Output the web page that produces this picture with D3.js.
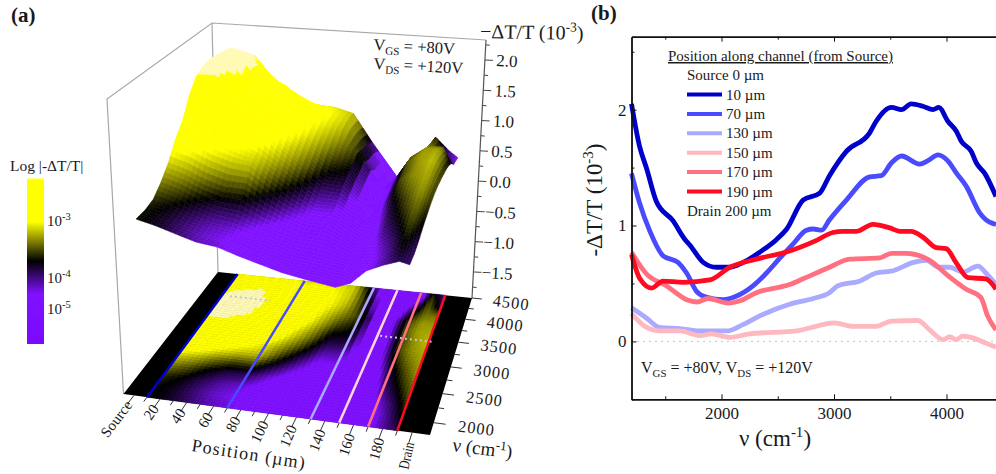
<!DOCTYPE html>
<html>
<head>
<meta charset="utf-8">
<script src="https://cdn.jsdelivr.net/npm/d3@7"></script>
<style>
  html, body { margin: 0; background: #fff; }
  svg { display: block; }
  text { font-family: "Liberation Serif", serif; fill: #1a1a1a; }
</style>
</head>
<body>
<div id="container"></div>
<script>
// panel (b) spectra, [wavenumber, -dT/T]
const spectrum10 = [[1200,2.05],[1270,1.69],[1335,1.49],[1420,1.21],[1570,1.04],[1675,.88],[1720,.83],[1840,.68],[1953,.64],[2074,.64],[2190,.68],[2340,.77],[2490,.88],[2580,.97],[2725,1.22],[2873,1.28],[2960,1.43],[3110,1.64],[3317,1.8],[3375,1.9],[3510,2.02],[3600,2.0],[3686,2.05],[3790,2.03],[3880,2.0],[3932,2.02],[4012,1.9],[4090,1.81],[4130,1.73],[4220,1.64],[4265,1.54],[4340,1.45],[4440,1.25]];
const spectrum70 = [[1200,1.45],[1270,1.2],[1364,.95],[1480,.74],[1615,.68],[1690,.59],[1780,.43],[1870,.38],[2015,.36],[2130,.39],[2280,.48],[2400,.59],[2520,.72],[2635,.84],[2755,.96],[2815,.97],[2890,.96],[2960,1.05],[3110,1.22],[3317,1.42],[3420,1.43],[3510,1.54],[3600,1.6],[3760,1.53],[3835,1.56],[3925,1.61],[4010,1.56],[4090,1.45],[4175,1.34],[4295,1.11],[4350,1.05],[4440,1.01]];
const spectrum130 = [[1200,.29],[1335,.2],[1450,.12],[1630,.11],[1808,.09],[2045,.09],[2190,.145],[2340,.22],[2605,.32],[2815,.37],[2960,.42],[3035,.48],[3225,.52],[3375,.59],[3525,.61],[3700,.68],[3820,.7],[3935,.64],[4030,.64],[4145,.6],[4280,.65],[4350,.59],[4440,.49]];
const spectrum150 = [[1200,.24],[1335,.12],[1450,.09],[1630,.09],[1808,.05],[1910,.065],[2074,.035],[2250,.065],[2665,.09],[2840,.13],[3000,.16],[3170,.13],[3375,.13],[3510,.175],[3745,.18],[3850,.1],[3970,.015],[4030,.04],[4085,.015],[4145,.045],[4235,.03],[4350,-.015],[4440,-.05]];
const spectrum170 = [[1200,.77],[1335,.58],[1510,.48],[1690,.36],[1780,.34],[1880,.37],[2060,.33],[2165,.35],[2310,.42],[2605,.49],[2725,.54],[2960,.64],[3140,.71],[3405,.72],[3510,.76],[3640,.76],[3850,.7],[4010,.57],[4175,.45],[4305,.38],[4365,.22],[4440,.1]];
const spectrum190 = [[1200,.75],[1275,.54],[1380,.46],[1480,.52],[1660,.51],[1896,.53],[2074,.64],[2310,.71],[2605,.78],[2840,.87],[2990,.94],[3080,.95],[3200,.95],[3345,1.01],[3495,.98],[3585,.95],[3686,.95],[3790,.9],[3908,.81],[3997,.8],[4085,.68],[4190,.55],[4350,.54],[4440,.45]];

const legendLabels = ["10 µm", "70 µm", "130 µm", "150 µm", "170 µm", "190 µm"];
const linePositions = [10, 70, 130, 150, 170, 190];
const lineColors = ["#0000cc", "#4a4aff", "#aaaaff", "#ffb8c0", "#ff7080", "#ff0a20"];
const spectra = [spectrum10, spectrum70, spectrum130, spectrum150, spectrum170, spectrum190];

// panel (a) surface, one row per position, one column per wavenumber
const gridNu = [1800, 2000, 2200, 2400, 2600, 2800, 3000, 3200, 3400, 3600, 3800, 4000, 4200, 4400, 4500];
const gridPos = [10, 25, 40, 55, 70, 85, 100, 115, 130, 150, 160, 170, 180, 190, 196];
const gridZ = [
  [.64,.64,.68,.82,1.00,1.25,1.43,1.72,1.92,2.00,2.03,1.92,1.66,1.32,1.15],
  [.58,.58,.62,.74,.92,1.18,1.40,1.65,1.90,2.10,2.20,2.15,1.85,1.55,1.40],
  [.50,.48,.52,.62,.80,1.06,1.30,1.52,1.76,1.98,2.12,2.08,1.95,1.65,1.50],
  [.42,.40,.44,.54,.72,.98,1.18,1.35,1.50,1.66,1.76,1.72,1.60,1.45,1.35],
  [.39,.36,.40,.52,.72,.95,1.05,1.28,1.43,1.58,1.55,1.60,1.42,1.08,1.00],
  [.30,.28,.32,.40,.55,.72,.86,1.00,1.12,1.25,1.34,1.33,1.26,1.12,1.05],
  [.22,.20,.24,.30,.40,.52,.66,.78,.88,.98,1.05,1.12,1.12,1.08,1.04],
  [.14,.13,.16,.22,.30,.36,.45,.55,.64,.75,.85,.94,.98,.98,.96],
  [.09,.09,.13,.22,.30,.37,.43,.53,.60,.64,.70,.65,.62,.55,.50],
  [.03,.03,.06,.07,.09,.12,.16,.13,.13,.17,.18,.03,.03,-.03,-.05],
  [.12,.12,.14,.18,.22,.28,.34,.36,.38,.40,.40,.26,.18,.08,.05],
  [.33,.33,.37,.44,.50,.56,.64,.71,.72,.76,.72,.60,.42,.12,.08],
  [.44,.45,.50,.58,.66,.72,.80,.86,.88,.90,.88,.80,.76,.72,.65],
  [.53,.62,.68,.75,.80,.87,.90,.92,.95,.92,.88,.80,.55,.48,.45],
  [.50,.50,.54,.60,.64,.68,.70,.70,.68,.66,.62,.55,.42,.38,.36]
];

const posTicks = [0, 20, 40, 60, 80, 100, 120, 140, 160, 180, 200];
const posTickLabels = ["Source", "20", "40", "60", "80", "100", "120", "140", "160", "180", "Drain"];
const nuTicks = [2000, 2500, 3000, 3500, 4000, 4500];
const zTicks = [2, 1.5, 1, .5, 0, -.5, -1, -1.5];

const svg = d3.select("#container").append("svg")
  .attr("width", 996)
  .attr("height", 474);

// ---------- panel (a) ----------

// square to quad mapping, corners in the order (0,0) (1,0) (1,1) (0,1)
function homography(q) {
  const [[x0, y0], [x1, y1], [x2, y2], [x3, y3]] = q;
  const dx1 = x1 - x2, dx2 = x3 - x2, sx = x0 - x1 + x2 - x3;
  const dy1 = y1 - y2, dy2 = y3 - y2, sy = y0 - y1 + y2 - y3;
  const den = dx1 * dy2 - dx2 * dy1;
  const g = (sx * dy2 - dx2 * sy) / den;
  const h = (dx1 * sy - sx * dy1) / den;
  const a = x1 - x0 + g * x1, b = x3 - x0 + h * x3;
  const d = y1 - y0 + g * y1, e = y3 - y0 + h * y3;
  return (u, v) => {
    const w = g * u + h * v + 1;
    return [(a * u + b * v + x0) / w, (d * u + e * v + y0) / w];
  };
}

const floorMap = homography([[123.5, 394], [430, 435], [472, 298], [218, 272]]);
const roofMap = homography([[107, 99], [443, 143], [486, 40], [212, 23]]);

const posScale = d3.scaleLinear().domain([-8, 212]).range([0, 1]);
const nuScale = d3.scaleLinear().domain([1800, 4500]).range([0, 1]);
const zScale = d3.scaleLinear().domain([-1.93, 2.33]).range([0, 1]);

function project(pos, nu, z) {
  const u = posScale(pos), v = nuScale(nu);
  const f = floorMap(u, v);
  if (z === undefined) return f;
  const r = roofMap(u, v);
  const t = zScale(z);
  return [f[0] + (r[0] - f[0]) * t, f[1] + (r[1] - f[1]) * t];
}

const logColor = d3.scaleLog()
  .domain([.36, .62, 1.1])
  .range(["#8012ff", "#000000", "#ffff00"])
  .clamp(true);

function zColor(z) {
  if (z >= 1.95) return "#fffab8";
  return logColor(Math.max(z, .01));
}

const poly = pts => "M" + pts.map(p => p.join(",")).join("L") + "Z";

// box edges
const box = svg.append("g").attr("fill", "none").attr("stroke", "#a8a8a8").attr("stroke-width", 1.2);
box.append("path").attr("d", "M" + [project(-8, 1800), project(-8, 1800, 2.33), project(-8, 4500, 2.33), project(212, 4500, 2.33)].map(p => p.join(",")).join("L"));
box.append("path").attr("d", "M" + [project(-8, 4500), project(-8, 4500, 2.33)].map(p => p.join(",")).join("L"));

// floor
svg.append("path")
  .attr("d", poly([project(-8, 1800), project(212, 1800), project(212, 4500), project(-8, 4500)]))
  .attr("fill", "#000");

// cells of the table, each shaded in a few steps
const steps = 4;
const cells = [];
for (let j = gridNu.length - 2; j >= 0; j--) {
  for (let sj = steps - 1; sj >= 0; sj--) {
    for (let i = 0; i < gridPos.length - 1; i++) {
      for (let si = 0; si < steps; si++) {
        cells.push({ i, j, si, sj });
      }
    }
  }
}

function cellPoint(i, j, a, b) {
  const pos = gridPos[i] + (gridPos[i + 1] - gridPos[i]) * a;
  const nu = gridNu[j] + (gridNu[j + 1] - gridNu[j]) * b;
  const z0 = gridZ[i][j] + (gridZ[i + 1][j] - gridZ[i][j]) * a;
  const z1 = gridZ[i][j + 1] + (gridZ[i + 1][j + 1] - gridZ[i][j + 1]) * a;
  return { pos, nu, z: z0 + (z1 - z0) * b };
}

function cellCorners(c) {
  const a0 = c.si / steps, a1 = (c.si + 1) / steps;
  const b0 = c.sj / steps, b1 = (c.sj + 1) / steps;
  return [[a0, b0], [a1, b0], [a1, b1], [a0, b1]].map(([a, b]) => cellPoint(c.i, c.j, a, b));
}

function cellColor(c) {
  return zColor(cellPoint(c.i, c.j, (c.si + .5) / steps, (c.sj + .5) / steps).z);
}

// the map on the floor stops at the last line
svg.append("g").selectAll("path")
  .data(cells.filter(c => gridPos[c.i] < 190))
  .join("path")
  .attr("d", c => poly(cellCorners(c).map(d => project(d.pos, d.nu))))
  .attr("fill", cellColor)
  .attr("stroke", cellColor)
  .attr("stroke-width", .6);

// position lines on the floor
svg.append("g").selectAll("line")
  .data(linePositions)
  .join("line")
  .attr("x1", d => project(d, 1800)[0])
  .attr("y1", d => project(d, 1800)[1])
  .attr("x2", d => project(d, 4500)[0])
  .attr("y2", d => project(d, 4500)[1])
  .attr("stroke", (d, i) => i === 3 ? "#ffd8dc" : lineColors[i])
  .attr("stroke-width", 2.5);

// dotted guides on the floor
const guides = [[[17, 3950], [52, 3950]], [[152, 3450], [192, 3450]]];
guides.forEach(g => {
  svg.append("line")
    .attr("x1", project(g[0][0], g[0][1])[0])
    .attr("y1", project(g[0][0], g[0][1])[1])
    .attr("x2", project(g[1][0], g[1][1])[0])
    .attr("y2", project(g[1][0], g[1][1])[1])
    .attr("stroke", "#c4c4dc")
    .attr("stroke-width", 2)
    .attr("stroke-dasharray", "2,3");
});

// surface, painted from the back to the front
svg.append("g").selectAll("path")
  .data(cells)
  .join("path")
  .attr("d", c => poly(cellCorners(c).map(d => project(d.pos, d.nu, d.z))))
  .attr("fill", cellColor)
  .attr("stroke", cellColor)
  .attr("stroke-width", .6);

// z axis
const zAxis = svg.append("g");
zAxis.append("line")
  .attr("x1", project(212, 4500)[0]).attr("y1", project(212, 4500)[1])
  .attr("x2", project(212, 4500, 2.33)[0]).attr("y2", project(212, 4500, 2.33)[1])
  .attr("stroke", "#555").attr("stroke-width", 1.2);
d3.range(-1.75, 2.3, .25).forEach(z => {
  const p = project(212, 4500, z);
  const major = Math.abs(z * 2 - Math.round(z * 2)) < .01;
  zAxis.append("line")
    .attr("x1", p[0]).attr("y1", p[1])
    .attr("x2", p[0] + (major ? 8 : 4)).attr("y2", p[1] + .4)
    .attr("stroke", "#444").attr("stroke-width", 1);
});
zTicks.forEach(z => {
  const p = project(212, 4500, z);
  zAxis.append("text")
    .attr("transform", `translate(${p[0] + (z < 0 ? 8 : 11)},${p[1] + 6}) rotate(3)`)
    .style("font-size", "17px")
    .text(d3.format(".1f")(z));
});

// position axis
const posAxis = svg.append("g");
d3.range(0, 201, 10).forEach(d => {
  const a = project(d, 1800);
  const b = project(d, d % 20 === 0 ? 1640 : 1720);
  posAxis.append("line")
    .attr("x1", a[0]).attr("y1", a[1]).attr("x2", b[0]).attr("y2", b[1])
    .attr("stroke", "#333").attr("stroke-width", 1);
});
posTicks.forEach((d, i) => {
  const a = project(d, 1800);
  const p = project(d, 1660);
  const angle = Math.atan2(p[1] - a[1], p[0] - a[0]) * 180 / Math.PI - 180 - (d / 200) * 6;
  const squeeze = posTickLabels[i] === "Drain" ? .8 : 1;
  posAxis.append("text")
    .attr("transform", `translate(${p[0] + 5},${p[1] + 2}) rotate(${angle}) scale(${squeeze},1)`)
    .attr("text-anchor", "end")
    .style("font-size", "15px")
    .text(posTickLabels[i]);
});
posAxis.append("text")
  .attr("transform", "translate(248,460) rotate(9)")
  .attr("text-anchor", "middle")
  .style("font-size", "18px")
  .style("letter-spacing", "1.2px")
  .text("Position (µm)");

// wavenumber axis
const nuAxis = svg.append("g");
d3.range(2000, 4501, 250).forEach(d => {
  const a = project(212, d);
  const major = d % 500 === 0;
  const b = project(major ? 220 : 216, d);
  nuAxis.append("line")
    .attr("x1", a[0]).attr("y1", a[1]).attr("x2", b[0]).attr("y2", b[1])
    .attr("stroke", "#333").attr("stroke-width", 1);
});
nuTicks.forEach(d => {
  const p = project(226, d);
  nuAxis.append("text")
    .attr("transform", `translate(${p[0] + 3},${p[1] + 6}) rotate(7)`)
    .style("font-size", "16.5px")
    .style("letter-spacing", "1px")
    .text(d);
});
const nuTitle = nuAxis.append("text")
  .attr("transform", "translate(452,451) rotate(7)")
  .style("font-size", "19px");
nuTitle.append("tspan").text("ν (cm");
nuTitle.append("tspan").attr("dy", -7).style("font-size", "13px").text("-1");
nuTitle.append("tspan").attr("dy", 7).text(")");

// z title and voltages
const zTitle = svg.append("text")
  .attr("transform", "translate(480,38) rotate(1)")
  .style("font-size", "20px");
zTitle.append("tspan").text("−ΔT/T (10");
zTitle.append("tspan").attr("dy", -8).style("font-size", "13.5px").text("-3");
zTitle.append("tspan").attr("dy", 8).text(")");

function voltage(parent, x, y, rot, size, parts) {
  const t = parent.append("text")
    .attr("transform", `translate(${x},${y}) rotate(${rot})`)
    .style("font-size", size + "px");
  parts.forEach(([s, sub]) => {
    t.append("tspan")
      .attr("dy", sub ? 4 : t.selectAll("tspan").size() ? -4 : 0)
      .style("font-size", sub ? (size * .68) + "px" : null)
      .text(s);
  });
}
voltage(svg, 373, 54, 3, 16.5, [["V"], ["GS", 1], [" = +80V"]]);
voltage(svg, 373, 73, 3, 16.5, [["V"], ["DS", 1], [" = +120V"]]);

// colour bar
const barY = d3.scaleLinear().domain([0, 1]).range([178, 344]);
const defs = svg.append("defs");
const grad = defs.append("linearGradient")
  .attr("id", "bar")
  .attr("x1", 0).attr("y1", 0).attr("x2", 0).attr("y2", 1);
[[0, "#fffab8"], [.015, "#ffff00"], [.265, "#ffff00"], [.5, "#000000"], [.7, "#8012ff"], [1, "#7a08ff"]]
  .forEach(([o, c]) => grad.append("stop").attr("offset", o).attr("stop-color", c));
svg.append("rect")
  .attr("x", 27).attr("y", barY(0))
  .attr("width", 17).attr("height", barY(1) - barY(0))
  .attr("fill", "url(#bar)");
svg.append("text").attr("x", 10).attr("y", 171).style("font-size", "15.5px").text("Log |-ΔT/T|");
[["-3", 226], ["-4", 283], ["-5", 314]].forEach(([e, y]) => {
  const t = svg.append("text").attr("x", 47).attr("y", y).style("font-size", "15px");
  t.append("tspan").text("10");
  t.append("tspan").attr("dy", -6).style("font-size", "10.5px").text(e);
});

svg.append("text").attr("x", 11).attr("y", 22)
  .style("font-size", "21px").style("font-weight", "bold").text("(a)");

// ---------- panel (b) ----------
const x = d3.scaleLinear().domain([1200, 4440]).range([631.5, 996]);
const y = d3.scaleLinear().domain([-.5, 2.63]).range([399.3, 36.7]);

const line = d3.line()
  .x(d => x(d[0]))
  .y(d => y(d[1]))
  .curve(d3.curveMonotoneX);

// zero line
svg.append("line")
  .attr("x1", x(1200)).attr("x2", x(4440))
  .attr("y1", y(0)).attr("y2", y(0))
  .attr("stroke", "#888")
  .attr("stroke-dasharray", "1,5");

[1, 0, 2, 3, 4, 5].forEach(i => {
  svg.append("path")
    .datum(spectra[i])
    .attr("fill", "none")
    .attr("stroke", lineColors[i])
    .attr("stroke-width", 4.8)
    .attr("stroke-linejoin", "round")
    .attr("d", line);
});

const xMajor = [2000, 3000, 4000];
const xMinor = [1500, 2500, 3500];
const yMajor = [0, 1, 2];
const yMinor = [-.5, .5, 1.5, 2.5];

const styleAxis = g => {
  g.selectAll("path").attr("stroke", "#111").attr("stroke-width", 1.4);
  g.selectAll("line").attr("stroke", "#111");
  g.selectAll("text").attr("fill", "#1a1a1a").style("font-family", '"Liberation Serif", serif');
};

svg.append("g")
  .attr("transform", `translate(0,${y.range()[0]})`)
  .call(d3.axisBottom(x).tickValues(xMajor).tickSizeInner(-5).tickSizeOuter(0).tickPadding(8).tickFormat(d3.format("d")))
  .call(styleAxis)
  .selectAll("text").style("font-size", "17px");
svg.append("g")
  .attr("transform", `translate(0,${y.range()[0]})`)
  .call(d3.axisBottom(x).tickValues(xMinor).tickSizeInner(-3).tickSizeOuter(0).tickFormat(""))
  .call(styleAxis);
svg.append("g")
  .attr("transform", `translate(0,${y.range()[1]})`)
  .call(d3.axisTop(x).tickValues(xMajor).tickSizeInner(-5).tickSizeOuter(0).tickFormat(""))
  .call(styleAxis);
svg.append("g")
  .attr("transform", `translate(0,${y.range()[1]})`)
  .call(d3.axisTop(x).tickValues(xMinor).tickSizeInner(-3).tickSizeOuter(0).tickFormat(""))
  .call(styleAxis);
svg.append("g")
  .attr("transform", `translate(${x.range()[0]},0)`)
  .call(d3.axisLeft(y).tickValues(yMajor).tickSizeInner(-5).tickSizeOuter(0).tickPadding(5).tickFormat(d3.format("d")))
  .call(styleAxis)
  .selectAll("text").style("font-size", "17px");
svg.append("g")
  .attr("transform", `translate(${x.range()[0]},0)`)
  .call(d3.axisLeft(y).tickValues(yMinor).tickSizeInner(-3).tickSizeOuter(0).tickFormat(""))
  .call(styleAxis);

const xTitle = svg.append("text")
  .attr("x", 775).attr("y", 446)
  .attr("text-anchor", "middle")
  .style("font-size", "23px");
xTitle.append("tspan").text("ν (cm");
xTitle.append("tspan").attr("dy", -9).style("font-size", "15px").text("-1");
xTitle.append("tspan").attr("dy", 9).text(")");

const yTitle = svg.append("text")
  .attr("transform", "translate(602,200) rotate(-90)")
  .attr("text-anchor", "middle")
  .style("font-size", "23px");
yTitle.append("tspan").text("-ΔT/T (10");
yTitle.append("tspan").attr("dy", -9).style("font-size", "15px").text("-3");
yTitle.append("tspan").attr("dy", 9).text(")");

svg.append("text").attr("x", 591).attr("y", 20)
  .style("font-size", "21px").style("font-weight", "bold").text("(b)");

// legend
svg.append("text").attr("x", 668).attr("y", 61)
  .style("font-size", "15px")
  .style("text-decoration", "underline")
  .text("Position along channel (from Source)");
svg.append("text").attr("x", 687).attr("y", 80).style("font-size", "15px").text("Source 0 µm");
svg.append("text").attr("x", 687).attr("y", 216).style("font-size", "15px").text("Drain 200 µm");
legendLabels.forEach((label, i) => {
  const ly = 94.5 + i * 19.4;
  svg.append("line")
    .attr("x1", 687).attr("x2", 722)
    .attr("y1", ly).attr("y2", ly)
    .attr("stroke", lineColors[i])
    .attr("stroke-width", 4);
  svg.append("text").attr("x", 726).attr("y", ly + 5).style("font-size", "15px").text(label);
});

voltage(svg, 641, 377, 0, 16, [["V"], ["GS", 1], [" = +80V, V"], ["DS", 1], [" = +120V"]]);
</script>
</body>
</html>
